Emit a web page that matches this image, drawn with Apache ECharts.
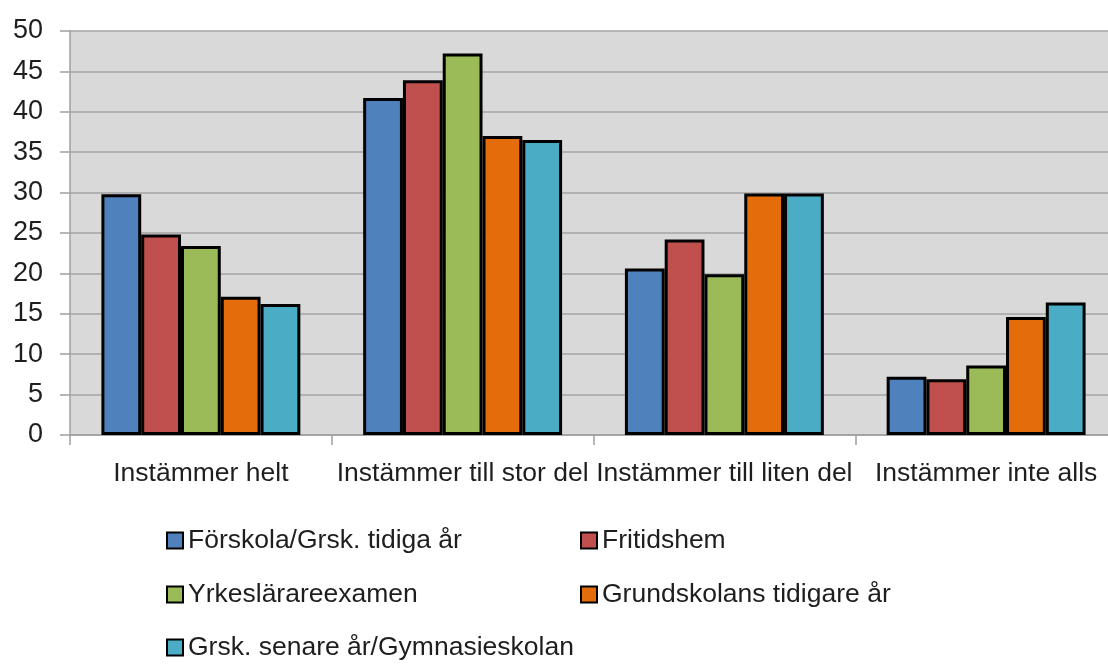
<!DOCTYPE html>
<html>
<head>
<meta charset="utf-8">
<script src="https://cdn.jsdelivr.net/npm/echarts@6/dist/echarts.min.js"></script>
<style>
  html, body { margin: 0; padding: 0; background: #fff; overflow: hidden; }
  /* the source picture is cut at its right edge, so the canvas is a bit wider than the window */
  #chart { width: 1117px; height: 664px; }
</style>
</head>
<body>
<div id="chart"></div>
<script>
// categories on the x axis
var categories = ['Instämmer helt', 'Instämmer till stor del', 'Instämmer till liten del', 'Instämmer inte alls'];

// one array per group (percent)
var forskola   = [29.8, 41.7, 20.6, 7.2];
var fritidshem = [24.8, 43.9, 24.2, 6.9];
var yrkes      = [23.4, 47.2, 19.9, 8.6];
var grundTidig = [17.1, 37.0, 29.9, 14.6];
var grskSenare = [16.2, 36.5, 29.9, 16.4];

var seriesNames = ['Förskola/Grsk. tidiga år', 'Fritidshem', 'Yrkeslärareexamen', 'Grundskolans tidigare år', 'Grsk. senare år/Gymnasieskolan'];
var seriesData = [forskola, fritidshem, yrkes, grundTidig, grskSenare];
var colors = ['#4F81BD', '#C0504D', '#9BBB59', '#E46C0A', '#4BACC6'];

var fontFam = '"Liberation Sans", Arial, sans-serif';
var textCol = '#1e1e1e';
var fs = 26.5;

var chart = echarts.init(document.getElementById('chart'));

// legend slots: [left, top]
var legendPos = [[166, 527], [580, 527], [166, 581], [580, 581], [166, 634]];

var legends = seriesNames.map(function (n, i) {
    return {
        data: [{ name: n, icon: 'rect' }],
        left: legendPos[i][0],
        top: legendPos[i][1],
        padding: 0,
        itemWidth: 16,
        itemHeight: 16,
        itemGap: 4,
        selectedMode: false,
        textStyle: { fontFamily: fontFam, fontSize: fs, color: textCol }
    };
});

var option = {
    animation: false,
    color: colors,
    grid: {
        left: 70, top: 31, right: 0, bottom: 229,
        show: true, backgroundColor: '#D9D9D9', borderWidth: 0
    },
    legend: legends,
    xAxis: {
        type: 'category',
        data: categories,
        axisLine: { lineStyle: { color: '#A0A0A0', width: 1.5 } },
        axisTick: { show: true, interval: 0, length: 10, lineStyle: { color: '#A0A0A0', width: 1.5 } },
        axisLabel: { interval: 0, fontFamily: fontFam, fontSize: fs, color: textCol, margin: 25 }
    },
    yAxis: {
        type: 'value',
        min: 0, max: 50, interval: 5,
        axisLine: { show: true, lineStyle: { color: '#A0A0A0', width: 1.5 } },
        axisTick: { show: true, length: 10, lineStyle: { color: '#A0A0A0', width: 1.5 } },
        splitLine: { lineStyle: { color: '#A3A3A3', width: 1.5 } },
        axisLabel: { fontFamily: fontFam, fontSize: 27, color: textCol, margin: 27 }
    },
    series: seriesData.map(function (d, i) {
        return {
            name: seriesNames[i],
            type: 'bar',
            data: d,
            barGap: '0%',
            barCategoryGap: '24%',
            itemStyle: { color: colors[i], borderColor: '#000', borderWidth: 3 }
        };
    })
};

chart.setOption(option);
</script>
</body>
</html>
